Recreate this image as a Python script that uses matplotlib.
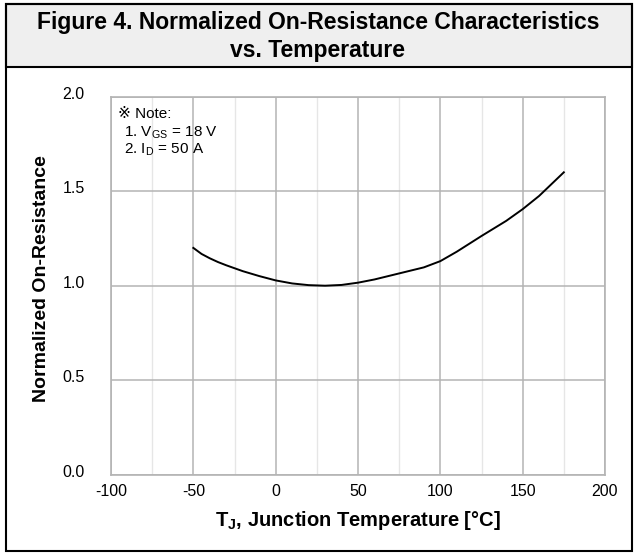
import matplotlib.pyplot as plt
import matplotlib.transforms as mtransforms
from matplotlib.patches import Rectangle
from matplotlib.ticker import MultipleLocator

plt.rcParams['font.family'] = ['Liberation Sans', 'DejaVu Sans']
plt.rcParams['mathtext.fontset'] = 'custom'
plt.rcParams['mathtext.rm'] = 'Liberation Sans'
plt.rcParams['mathtext.bf'] = 'Liberation Sans:bold'
plt.rcParams['axes.unicode_minus'] = False

# data
temp_c = [-50, -45, -40, -35, -30, -20, -10, 0, 10, 20, 30, 40, 50, 60, 75,
          90, 100, 110, 125, 140, 150, 160, 175]
r_norm = [1.20, 1.168, 1.145, 1.125, 1.108, 1.077, 1.051, 1.028, 1.012, 1.003,
          1.0, 1.004, 1.016, 1.033, 1.065, 1.097, 1.13, 1.18, 1.263, 1.343,
          1.405, 1.475, 1.60]

x_ticks = [-100, -50, 0, 50, 100, 150, 200]
y_ticks = [0.0, 0.5, 1.0, 1.5, 2.0]

fig = plt.figure(figsize=(6.36, 5.56), dpi=100)

# outer frame and grey title band
fig.patches.append(Rectangle((6 / 636, 1 - 67 / 556), 626 / 636, 63 / 556,
                             transform=fig.transFigure, facecolor='#efefef',
                             edgecolor='black', lw=1.5, zorder=0))
fig.patches.append(Rectangle((6 / 636, 5 / 556), 626 / 636, 547 / 556,
                             transform=fig.transFigure, facecolor='none',
                             edgecolor='black', lw=1.5, zorder=0))

fig.text(0.5, 1 - 22 / 556, 'Figure 4. Normalized On-Resistance Characteristics',
         ha='center', va='center', fontsize=16.5, fontweight='bold')
fig.text(0.5, 1 - 50 / 556, 'vs. Temperature',
         ha='center', va='center', fontsize=16.5, fontweight='bold')

ax = fig.add_axes([111 / 636, (556 - 474.7) / 556, 494 / 636, 378 / 556])
ax.plot(temp_c, r_norm, color='black', lw=1.4)

ax.set_xlim(-100, 200)
ax.set_ylim(0, 2.0)
ax.set_xticks(x_ticks)
ax.set_yticks(y_ticks)
ax.set_yticklabels([f'{v:.1f}' for v in y_ticks])
ax.xaxis.set_minor_locator(MultipleLocator(25))
ax.grid(True, which='major', color='#b4b4b4', lw=1.1)
ax.grid(True, which='minor', axis='x', color='#e6e6e6', lw=1.0)
ax.set_axisbelow(True)
for s in ax.spines.values():
    s.set_color('#b4b4b4')
    s.set_linewidth(1.2)
ax.tick_params(which='both', length=0, labelsize=11.5)
ax.tick_params(axis='y', pad=19)
ax.tick_params(axis='x', pad=7)

# y labels sit a little above their grid lines in the original
shift = mtransforms.ScaledTranslation(0, 4 / 100, fig.dpi_scale_trans)
for lbl in ax.get_yticklabels():
    lbl.set_transform(lbl.get_transform() + shift)

ax.set_xlabel(r'T$_\mathbf{J}$, Junction Temperature [°C]', fontsize=14.5,
              fontweight='bold', va='center')
ax.xaxis.set_label_coords(0.5, -(521 - 474.7) / 378)
ax.set_ylabel('Normalized On-Resistance', fontsize=14, fontweight='bold',
              va='center')
ax.yaxis.set_label_coords(-(111 - 42) / 494, 0.52)

ax.text(0.015, 0.955, '※ Note:', transform=ax.transAxes, fontsize=11, va='center')
ax.text(0.027, 0.905, r'1. V$_{\mathrm{GS}}$ = 18 V', transform=ax.transAxes,
        fontsize=11, va='center')
ax.text(0.027, 0.86, r'2. I$_{\mathrm{D}}$ = 50 A', transform=ax.transAxes,
        fontsize=11, va='center')

fig.savefig('out.png', dpi=100)
